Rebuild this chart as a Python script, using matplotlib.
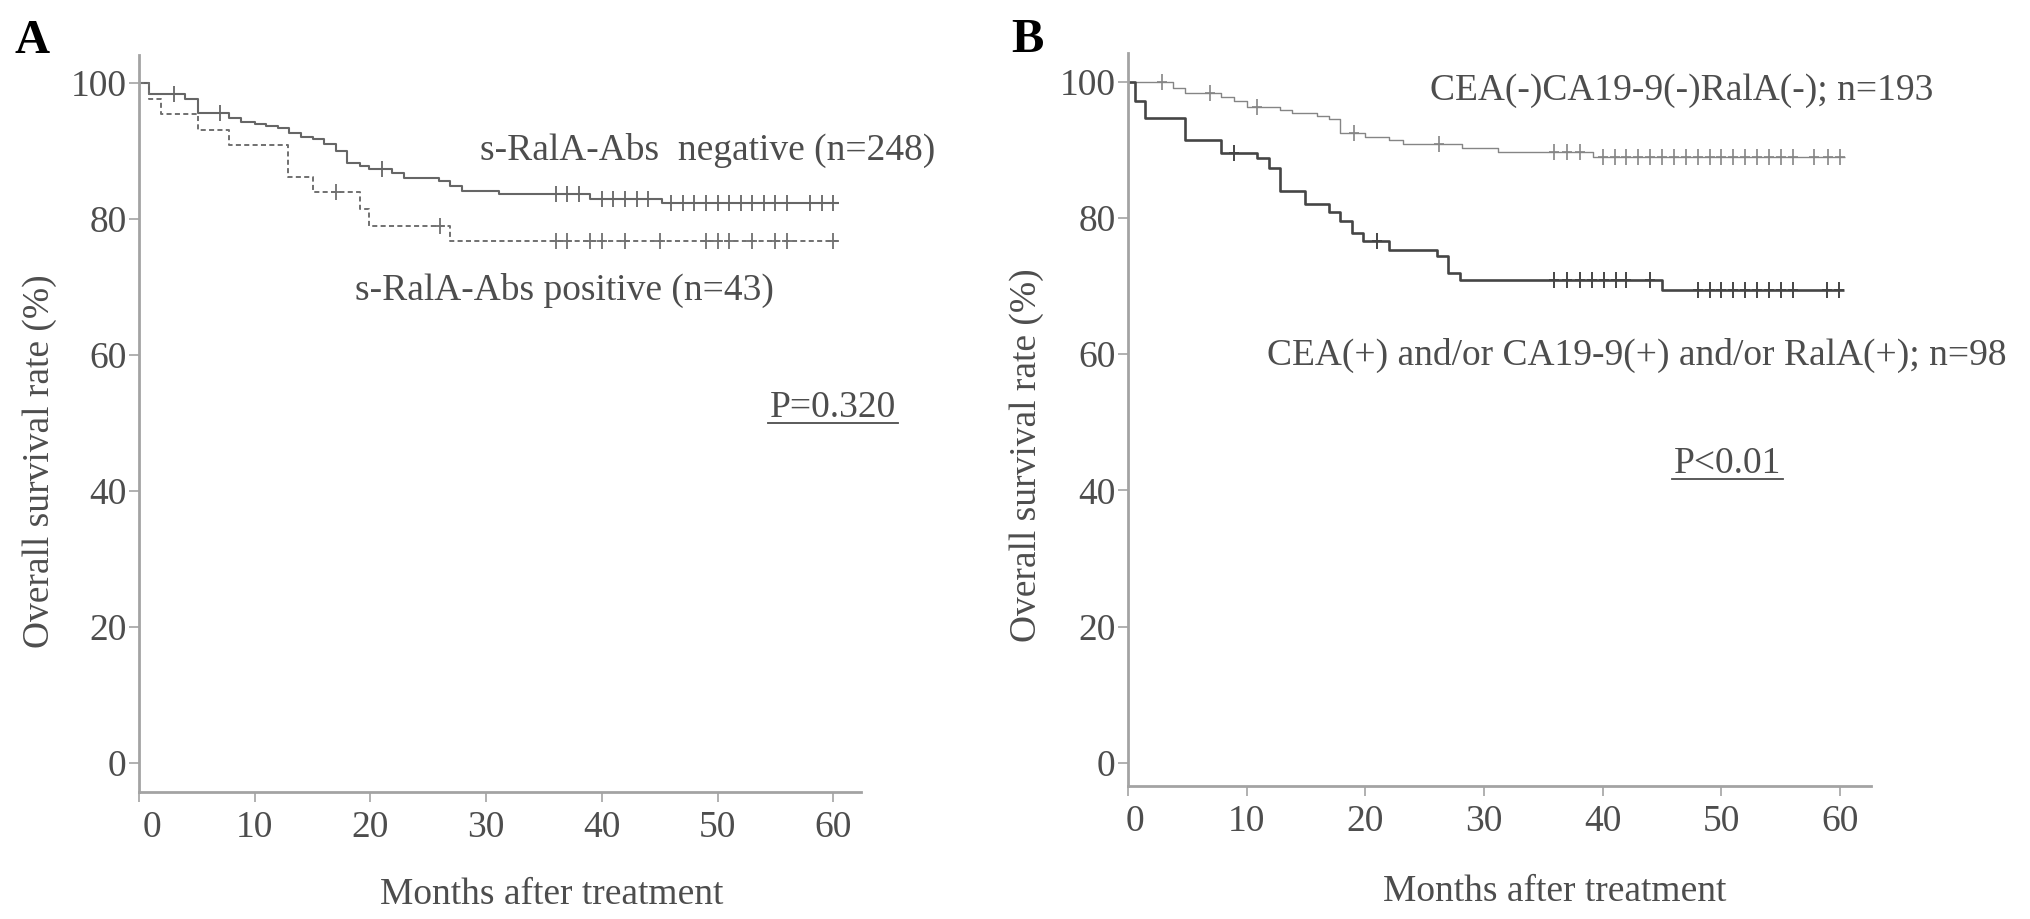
#!/usr/bin/env python3

import numpy as np
import matplotlib
matplotlib.use('Agg')
import matplotlib.pyplot as plt
from matplotlib.lines import Line2D
from matplotlib.transforms import ScaledTranslation

plt.rcParams['font.family'] = ['Liberation Serif', 'DejaVu Serif']

# ------- DATA ------- #

# Panel A: s-RalA-Abs negative (n=248)
neg_t = [0, 0.9, 4.0, 5.1, 7.8, 8.8, 10.0, 11.0, 12.0, 13.0, 14.0, 15.0, 16.0,
         17.0, 18.0, 19.1, 19.9, 21.9, 22.9, 25.9, 26.9, 27.9, 31.1, 39.0, 45.2]
neg_s = [100, 98.3, 97.6, 95.5, 94.8, 94.3, 93.9, 93.6, 93.3, 92.6, 92.1, 91.7, 91.0,
         90.0, 88.2, 87.8, 87.4, 86.7, 86.0, 85.5, 84.9, 84.1, 83.7, 82.9, 82.4]
neg_end = 60.5
neg_cens = [3.0, 7.0, 21.0, 36, 37, 38, 40, 41, 42, 43, 44, 46, 47, 48, 49, 50,
            51, 52, 53, 54, 55, 56, 58, 59, 60]

# Panel A: s-RalA-Abs positive (n=43)
pos_t = [0, 0.9, 1.9, 5.1, 7.8, 12.9, 15.0, 19.1, 19.9, 26.9]
pos_s = [100, 97.7, 95.4, 93.1, 90.8, 86.2, 83.9, 81.4, 79.0, 76.8]
pos_end = 60.5
pos_cens = [17.0, 26.0, 36, 37, 39, 40, 42, 45, 49, 50, 51, 53, 55, 56, 60]

# Panel B: CEA(-)CA19-9(-)RalA(-); n=193
low_risk_t = [0, 3.8, 4.8, 7.8, 8.9, 10.0, 12.8, 13.8, 15.9, 16.9, 17.9, 20.0,
              22.0, 23.2, 28.1, 31.2, 39.2]
low_risk_s = [100, 99.0, 98.3, 97.7, 97.1, 96.3, 95.8, 95.4, 94.9, 94.5, 92.4, 91.9,
              91.5, 90.8, 90.2, 89.6, 88.9]
low_risk_end = 60.4
low_risk_cens = [2.9, 6.9, 10.9, 19.0, 26.2, 35.9, 37.0, 38.1, 40, 41, 42, 43, 44,
                 45, 46, 47, 48, 49, 50, 51, 52, 53, 54, 55, 56, 57.8, 59.0, 60.0]

# Panel B: CEA(+) and/or CA19-9(+) and/or RalA(+); n=98
high_risk_t = [0, 0.6, 1.4, 4.8, 7.8, 10.9, 11.9, 12.8, 14.9, 16.9, 17.9, 18.9,
               19.8, 22.0, 26.0, 27.0, 28.0, 45.0]
high_risk_s = [100, 97.1, 94.6, 91.5, 89.5, 88.8, 87.3, 83.9, 82.0, 80.9, 79.6, 77.8,
               76.6, 75.3, 74.4, 71.9, 70.9, 69.4]
high_risk_end = 60.3
high_risk_cens = [8.9, 21.0, 35.9, 37.0, 38.1, 39.1, 40.1, 41.1, 42.0, 44.0, 48, 49,
                  50, 51, 52, 53, 54, 55, 56, 58.9, 59.9]

y_ticks = [0, 20, 40, 60, 80, 100]
x_ticks = [0, 10, 20, 30, 40, 50, 60]

# ------- STYLE ------- #
W, H = 2031, 919
TXT = '#4d4d4d'
SPINE = '#a3a3a3'
FS = 27


def px(x, y):
    # pixel position (from top-left) -> figure fraction
    return x / W, 1 - y / H


def km_curve(ax, t, s, t_end, cens, color, lw, ls='-', mw=1.3):
    tt = list(t) + [t_end]
    ss = list(s) + [s[-1]]
    ax.step(tt, ss, where='post', color=color, lw=lw, ls=ls, solid_capstyle='butt')
    # censor marks sit on the step at that time
    idx = np.searchsorted(np.array(t), np.array(cens), side='right') - 1
    cy = np.array(s)[idx]
    ax.plot(cens, cy, ls='none', marker='|', ms=12, mew=mw, color=color)
    ax.plot(cens, cy, ls='none', marker='_', ms=7, mew=mw, color=color)


def style_axes(ax, ylim, xlim, zero_shift):
    for side in ['top', 'right']:
        ax.spines[side].set_visible(False)
    for side in ['left', 'bottom']:
        ax.spines[side].set_color(SPINE)
        ax.spines[side].set_linewidth(2.0)
    ax.set_xlim(*xlim)
    ax.set_ylim(*ylim)
    ax.set_xticks(x_ticks)
    ax.set_yticks(y_ticks)
    ax.tick_params(axis='both', colors=SPINE, labelcolor=TXT, labelsize=FS,
                   width=1.2, length=7, direction='out')
    ax.tick_params(axis='x', pad=6)
    ax.tick_params(axis='y', pad=2)
    lbl = ax.get_xticklabels()[0]
    lbl.set_transform(lbl.get_transform() + ScaledTranslation(zero_shift / 100, 0, fig.dpi_scale_trans))


fig = plt.figure(figsize=(W / 100, H / 100), dpi=100)

# Panel A axes: spine box 139..861 x 55..792 px
axA = fig.add_axes([139 / W, 1 - 792 / H, 722 / W, 737 / H])
# Panel B axes: spine box 1128..1871 x 53..786 px
axB = fig.add_axes([1128 / W, 1 - 786 / H, 743 / W, 733 / H])

km_curve(axA, neg_t, neg_s, neg_end, neg_cens, '#666666', 1.5)
km_curve(axA, pos_t, pos_s, pos_end, pos_cens, '#707070', 1.4, ls=(0, (2.6, 1.7)))
style_axes(axA, (-4.3, 104.1), (0, 62.4), 13)

km_curve(axB, low_risk_t, low_risk_s, low_risk_end, low_risk_cens, '#858585', 1.0, mw=1.2)
km_curve(axB, high_risk_t, high_risk_s, high_risk_end, high_risk_cens, '#454545', 1.9, mw=1.4)
style_axes(axB, (-3.4, 104.2), (0, 62.6), 7)

# axis labels
for ax, xc, yc in [(axA, 40, 461), (axB, 1027, 455)]:
    fig.text(*px(xc, yc), 'Overall survival rate (%)', rotation=90, ha='center',
             va='center', fontsize=FS, color=TXT)
fig.text(*px(552, 904), 'Months after treatment', ha='center', va='baseline',
         fontsize=FS, color=TXT)
fig.text(*px(1555, 901), 'Months after treatment', ha='center', va='baseline',
         fontsize=FS, color=TXT)

# panel letters
fig.text(*px(15, 53), 'A', fontsize=35, fontweight='bold', va='baseline', color='black')
fig.text(*px(1011, 52), 'B', fontsize=35, fontweight='bold', va='baseline', color='black')

# group annotations
fig.text(*px(480, 160), 's-RalA-Abs  negative (n=248)', fontsize=FS, color=TXT, va='baseline')
fig.text(*px(355, 300), 's-RalA-Abs positive (n=43)', fontsize=FS, color=TXT, va='baseline')
fig.text(*px(1430, 100), 'CEA(-)CA19-9(-)RalA(-); n=193', fontsize=FS, color=TXT, va='baseline')
fig.text(*px(1267, 365), 'CEA(+) and/or CA19-9(+) and/or RalA(+); n=98', fontsize=FS,
         color=TXT, va='baseline')

# p-values, underlined
fig.canvas.draw()
for s, x0, base in [('P=0.320', 770, 417), ('P<0.01', 1674, 473)]:
    t = fig.text(*px(x0, base), s, fontsize=FS, color=TXT, va='baseline')
    bb = t.get_window_extent(renderer=fig.canvas.get_renderer())
    yl = 1 - (base + 6) / H
    fig.add_artist(Line2D([bb.x0 / W - 0.001, bb.x1 / W + 0.001], [yl, yl],
                          transform=fig.transFigure, color=TXT, lw=1.3))

plt.savefig('out.png', dpi=100)
